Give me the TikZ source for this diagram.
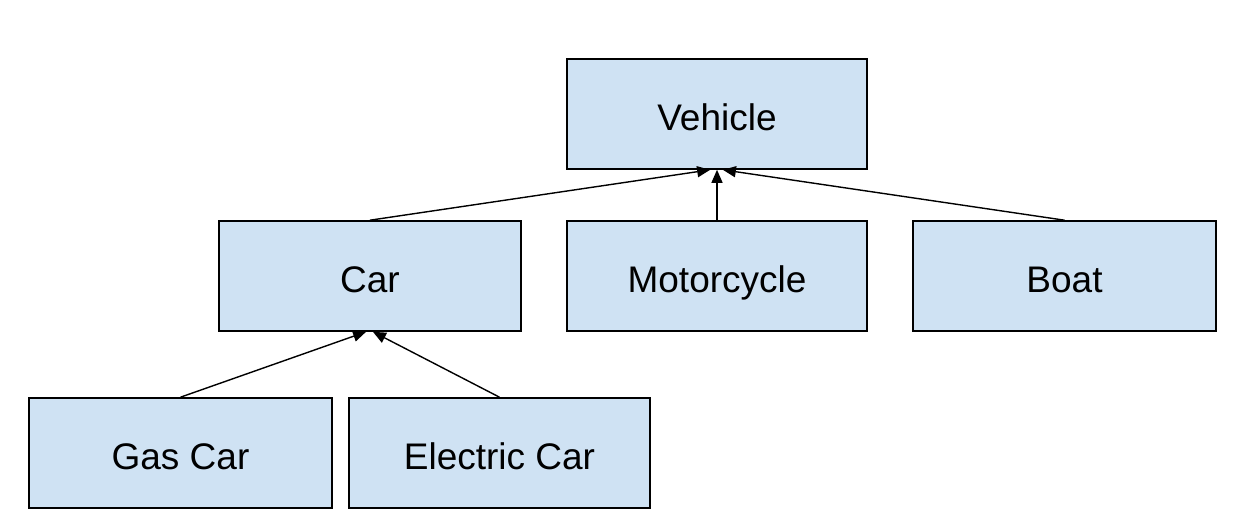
\documentclass[tikz,border=0pt]{standalone}
\usepackage{fontspec}
\setmainfont{Liberation Sans}
\usetikzlibrary{arrows.meta}

\definecolor{boxblue}{HTML}{CFE2F3}

\begin{document}
\begin{tikzpicture}[x=1pt, y=-1pt,
    cls/.style={draw, line width=1.6pt, fill=boxblue, minimum height=110pt,
                inner sep=0pt, text height=34pt, text depth=1pt,
                font=\fontsize{37}{42}\selectfont},
    inh/.style={-{Triangle[length=13pt,width=11pt]}, line width=1.4pt}]
  \useasboundingbox (0,0) rectangle (1249,516);

  \node[cls, minimum width=300pt] (vehicle)    at (717,114)    {Vehicle};
  \node[cls, minimum width=302pt] (car)        at (370,276)    {Car};
  \node[cls, minimum width=300pt] (motorcycle) at (717,276)    {Motorcycle};
  \node[cls, minimum width=303pt] (boat)       at (1064.5,276) {Boat};
  \node[cls, minimum width=303pt] (gascar)     at (180.5,453)  {Gas Car};
  \node[cls, minimum width=301pt] (eleccar)    at (499.5,453)  {Electric Car};

  \path[inh]
  (car.north)        edge (vehicle.263)
  (motorcycle.north) edge (vehicle.south)
  (boat.north)       edge (vehicle.276)
  (gascar.north)     edge (car.266)
  (eleccar.north)    edge (car.273)
  ;
\end{tikzpicture}
\end{document}
